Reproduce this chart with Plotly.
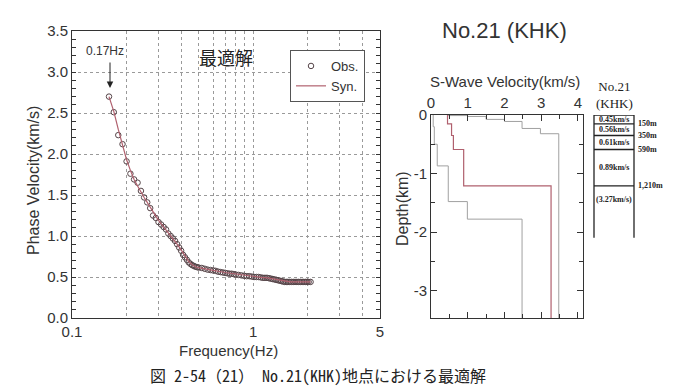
import plotly.graph_objects as go
import math

# page body keeps its default 8px margin, so the figure is drawn 8px in from the corner
OFF = 8
W, H = 673 - OFF, 388 - OFF

# ---------------- data ----------------
obs_f = [0.16, 0.17, 0.18, 0.19, 0.20, 0.21, 0.22, 0.23, 0.24, 0.25, 0.26, 0.27, 0.28, 0.29, 0.30,
         0.31, 0.32, 0.33, 0.34, 0.35, 0.36, 0.37, 0.38, 0.39, 0.40, 0.41, 0.42, 0.43, 0.44, 0.45,
         0.46, 0.47, 0.48, 0.49, 0.50, 0.52, 0.54, 0.56, 0.58, 0.60, 0.62, 0.64, 0.66, 0.68, 0.70,
         0.72, 0.74, 0.76, 0.78, 0.80, 0.83, 0.86, 0.89, 0.92, 0.95, 0.98, 1.01, 1.04, 1.07, 1.10,
         1.13, 1.16, 1.19, 1.22, 1.25, 1.28, 1.31, 1.34, 1.37, 1.40, 1.43, 1.46, 1.49, 1.52, 1.55,
         1.58, 1.62, 1.66, 1.70, 1.74, 1.78, 1.82, 1.86, 1.90, 1.94, 1.98, 2.02, 2.07]
obs_v = [2.70, 2.51, 2.23, 2.12, 1.91, 1.76, 1.69, 1.65, 1.55, 1.47, 1.41, 1.34, 1.25, 1.22, 1.17,
         1.14, 1.11, 1.08, 1.03, 1.00, 0.97, 0.94, 0.90, 0.86, 0.82, 0.77, 0.74, 0.71, 0.68, 0.66,
         0.645, 0.635, 0.625, 0.62, 0.615, 0.61, 0.60, 0.59, 0.585, 0.58, 0.575, 0.565, 0.56, 0.555, 0.55,
         0.545, 0.54, 0.54, 0.535, 0.53, 0.525, 0.52, 0.515, 0.51, 0.51, 0.505, 0.50, 0.50, 0.50, 0.495,
         0.49, 0.49, 0.49, 0.485, 0.48, 0.475, 0.47, 0.465, 0.46, 0.455, 0.45, 0.445, 0.44, 0.44, 0.44,
         0.44, 0.44, 0.44, 0.44, 0.44, 0.44, 0.44, 0.44, 0.44, 0.44, 0.44, 0.44, 0.44]

syn_f = [0.16, 0.17, 0.18, 0.19, 0.20, 0.21, 0.22, 0.23, 0.24, 0.25, 0.26, 0.28, 0.30, 0.32, 0.34,
         0.36, 0.38, 0.40, 0.42, 0.44, 0.46, 0.48, 0.50, 0.55, 0.60, 0.70, 0.80, 0.90, 1.00, 1.10,
         1.20, 1.30, 1.40, 1.50, 1.60, 1.80, 2.07]
syn_v = [2.70, 2.52, 2.30, 2.10, 1.93, 1.80, 1.69, 1.61, 1.53, 1.47, 1.41, 1.29, 1.19, 1.11, 1.04,
         0.97, 0.90, 0.83, 0.75, 0.69, 0.65, 0.625, 0.615, 0.595, 0.58, 0.555, 0.535, 0.52, 0.505, 0.495,
         0.49, 0.475, 0.46, 0.445, 0.44, 0.44, 0.44]

# S-wave velocity profiles: velocity of each layer and depth (km) of each layer top
best_v = [0.45, 0.56, 0.61, 0.89, 3.27]
best_top = [0.0, 0.15, 0.35, 0.59, 1.21]
upper_v = [0.47, 1.0, 1.5, 2.0, 2.48, 2.98, 3.48]
upper_top = [0.0, 0.01, 0.025, 0.075, 0.11, 0.23, 0.32]
lower_v = [0.06, 0.09, 0.17, 0.47, 0.99, 2.48]
lower_top = [0.0, 0.2, 0.5, 0.87, 1.48, 1.78]

col_labels = ["0.45km/s", "0.56km/s", "0.61km/s", "0.89km/s", "(3.27km/s)"]
col_depth_labels = ["150m", "350m", "590m", "1,210m"]

x_ticks_left = [0.1, 1, 5]
x_ticktext_left = ["0.1", "1", "5"]
x_minor_left = [0.2, 0.3, 0.4, 0.5, 0.6, 0.7, 0.8, 0.9, 2, 3, 4]
y_ticks_right = [0, -1, -2, -3]
y_ticktext_right = ["0", "-1", "-2", "-3"]

# ---------------- helpers (page pixel -> paper fraction) ----------------
def px(x):
    return (x - OFF) / W

def py(y):
    return 1 - (y - OFF) / H

def steps(v, top, bottom=3.6):
    xs = list(v) + [v[-1]]
    ys = [-t for t in top] + [-bottom]
    return xs, ys

AX = "#333333"
RED = "#b0606e"
GRAY = "#a0a0a0"
SANS = "Liberation Sans, Arial, sans-serif"
SERIF = "Liberation Serif, Times New Roman, serif"
CJK = "Noto Sans Mono CJK JP, Noto Sans CJK JP, sans-serif"

fig = go.Figure()

fig.add_trace(go.Scatter(x=obs_f, y=obs_v, mode="markers", name="Obs.",
                         marker=dict(symbol="circle-open", size=5.5, color="#554448",
                                     line=dict(width=1, color="#554448")),
                         xaxis="x", yaxis="y"))
fig.add_trace(go.Scatter(x=syn_f, y=syn_v, mode="lines", name="Syn.",
                         line=dict(color=RED, width=1.2), xaxis="x", yaxis="y"))

for v, t, c, w in [(lower_v, lower_top, GRAY, 1), (upper_v, upper_top, GRAY, 1),
                   (best_v, best_top, RED, 1.2)]:
    xs, ys = steps(v, t)
    fig.add_trace(go.Scatter(x=xs, y=ys, mode="lines", line=dict(color=c, width=w, shape="vh"),
                             showlegend=False, xaxis="x2", yaxis="y2"))

tickfont = dict(family=SANS, size=15, color=AX)

fig.update_layout(
    width=W, height=H, autosize=False,
    margin=dict(l=0, r=0, t=0, b=0),
    paper_bgcolor="white", plot_bgcolor="white",
    showlegend=True,
    legend=dict(x=px(290), y=py(50), xanchor="left", yanchor="top",
                bordercolor="#555", borderwidth=1, bgcolor="white",
                font=dict(family=SANS, size=13, color=AX), tracegroupgap=0),
    xaxis=dict(domain=[px(72), px(380)], type="log", range=[-1, math.log10(5)],
               tickvals=x_ticks_left, ticktext=x_ticktext_left, tickfont=tickfont,
               ticks="", showline=True, linecolor=AX, linewidth=1, mirror=True,
               showgrid=True, gridcolor="#9a9a9a", griddash="dot", gridwidth=1,
               minor=dict(tickvals=x_minor_left, showgrid=True, gridcolor="#9a9a9a",
                          griddash="dot", gridwidth=1, ticks=""),
               zeroline=False, anchor="y", automargin=False),
    yaxis=dict(domain=[py(318), py(31)], range=[0, 3.5], dtick=0.5, tickformat=".1f",
               tickfont=tickfont, ticks="inside", ticklen=4, tickcolor=AX,
               showline=True, linecolor=AX, linewidth=1, mirror="ticks",
               showgrid=True, gridcolor="#9a9a9a", griddash="dot", gridwidth=1,
               minor=dict(dtick=0.1, ticks="inside", ticklen=4, tickcolor=AX, showgrid=False),
               zeroline=False, anchor="x", automargin=False),
    xaxis2=dict(domain=[px(431), px(583)], range=[0, 4.14], side="top", dtick=1,
                tickfont=tickfont, ticks="inside", ticklen=6, tickcolor=AX,
                showline=True, linecolor=AX, linewidth=1, mirror="ticks",
                minor=dict(dtick=0.5, ticks="inside", ticklen=4, tickcolor=AX),
                showgrid=False, zeroline=False, anchor="y2", automargin=False),
    yaxis2=dict(domain=[py(318), py(115)], range=[-3.47, 0],
                tickvals=y_ticks_right, ticktext=y_ticktext_right,
                tickfont=tickfont, ticks="inside", ticklen=6, tickcolor=AX,
                showline=True, linecolor=AX, linewidth=1, mirror="ticks",
                minor=dict(dtick=0.5, ticks="inside", ticklen=4, tickcolor=AX),
                showgrid=False, zeroline=False, anchor="x2", automargin=False),
)

ann = []
def text(x, y, s, size, family=SANS, color=AX, angle=0, xanchor="center", xref="paper",
         yref="paper"):
    ann.append(dict(x=x, y=y, xref=xref, yref=yref, text=s, showarrow=False,
                    font=dict(family=family, size=size, color=color), textangle=angle,
                    xanchor=xanchor, yanchor="middle"))

text(px(33), py(181), "Phase Velocity(km/s)", 16, angle=-90)
text(px(228), py(350), "Frequency(Hz)", 15)
text(px(226), py(57), "最適解", 18, family=CJK, color="#222")
text(px(105), py(51), "0.17Hz", 12)
ann.append(dict(x=px(110), y=py(88), xref="paper", yref="paper", ax=0, ay=-27,
                showarrow=True, arrowhead=2, arrowsize=1.3, arrowwidth=1, arrowcolor="#222",
                text=""))

text(px(504), py(31), "No.21 (KHK)", 22)
text(px(505), py(82), "S-Wave Velocity(km/s)", 15)
text(px(402), py(209), "Depth(km)", 16, angle=-90)

text(px(318), py(375), "図 2-54（21）　No.21(KHK)地点における最適解", 16, family=CJK, color="#222")

# layered column
text(px(614), py(95), "No.21<br>(KHK)", 13, family=SERIF, color="#222")

shapes = []
col_l, col_r = px(594), px(634)
for xx in (col_l, col_r):
    shapes.append(dict(type="line", xref="paper", yref="y2", x0=xx, x1=xx, y0=0, y1=-2.1,
                       line=dict(color="#222", width=1.3)))
for t in best_top:
    shapes.append(dict(type="line", xref="paper", yref="y2", x0=col_l, x1=col_r, y0=-t, y1=-t,
                       line=dict(color="#222", width=1.3)))
mids = [(best_top[i] + best_top[i + 1]) / 2 for i in range(len(best_top) - 1)] + [1.45]
for m, lab in zip(mids, col_labels):
    ann.append(dict(x=(col_l + col_r) / 2, y=-m, xref="paper", yref="y2", text="<b>%s</b>" % lab,
                    showarrow=False, font=dict(family=SERIF, size=8, color="#222"),
                    xanchor="center", yanchor="middle"))
for t, lab in zip(best_top[1:], col_depth_labels):
    ann.append(dict(x=px(636), y=-t, xref="paper", yref="y2", text="<b>%s</b>" % lab,
                    showarrow=False, font=dict(family=SERIF, size=8, color="#222"),
                    xanchor="left", yanchor="middle"))

fig.update_layout(annotations=ann, shapes=shapes)
fig.write_html("out.html")
